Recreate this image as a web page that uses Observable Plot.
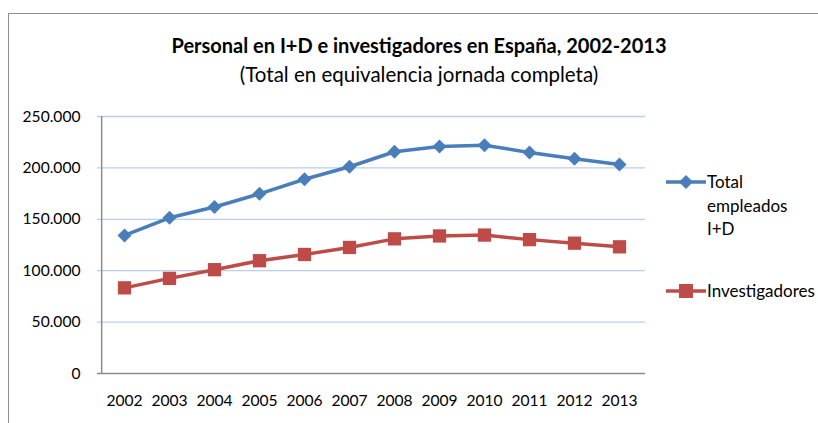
<!DOCTYPE html>
<html>
<head>
<meta charset="utf-8">
<script src="https://cdn.jsdelivr.net/npm/d3@7"></script>
<script src="https://cdn.jsdelivr.net/npm/@observablehq/plot@0.6"></script>
<style>
  html, body { margin: 0; padding: 0; background: #fff; overflow: hidden; }
  #wrap { position: relative; width: 818px; height: 423px; overflow: hidden; font-family: Lato, "Open Sans", sans-serif; color: #000; }
  #frame { position: absolute; left: 8px; top: 13px; width: 840px; height: 450px; border: 1px solid #8e8e8e; box-sizing: border-box; }
  #title { position: absolute; left: 0; top: 33px; width: 818px; text-align: center; font-size: 20px; font-weight: bold; padding-left: 20px; box-sizing: border-box; }
  #subtitle { position: absolute; left: 0; top: 62px; width: 818px; text-align: center; font-size: 20.5px; padding-left: 20px; box-sizing: border-box; }
  #chart { position: absolute; left: 0; top: 100px; }
  .leg { position: absolute; font-size: 17px; line-height: 23.5px; }
</style>
</head>
<body>
<div id="wrap">
  <div id="frame"></div>
  <div id="title">Personal en I+D e investigadores en España, 2002-2013</div>
  <div id="subtitle">(Total en equivalencia jornada completa)</div>
  <div id="chart"></div>
  <div class="leg" style="left:666px; top:170px;">
    <svg width="42" height="16" style="position:absolute; left:0; top:4px;"><line x1="0" y1="8" x2="40" y2="8" stroke="#4a7ebb" stroke-width="3.5"/><path d="M20,1 L27,8 L20,15 L13,8 Z" fill="#4a7ebb"/></svg>
    <div style="position:absolute; left:41px; top:0; width:110px;">Total<br>empleados<br>I+D</div>
  </div>
  <div class="leg" style="left:666px; top:279px;">
    <svg width="42" height="16" style="position:absolute; left:0; top:4px;"><line x1="0" y1="8" x2="40" y2="8" stroke="#be4b48" stroke-width="3.5"/><rect x="13" y="1" width="14" height="14" fill="#be4b48"/></svg>
    <div style="position:absolute; left:41px; top:0; width:140px;">Investigadores</div>
  </div>
</div>
<script>
const years = ["2002","2003","2004","2005","2006","2007","2008","2009","2010","2011","2012","2013"];
const totalEmpleados = [134258, 151487, 161933, 174773, 188978, 201108, 215676, 220777, 222022, 215079, 208831, 203302];
const investigadores = [83318, 92523, 100994, 109720, 115798, 122624, 130986, 133803, 134653, 130235, 126778, 123225];
const yTicks = [0, 50000, 100000, 150000, 200000, 250000];

const locale = d3.formatLocale({decimal: ",", thousands: ".", grouping: [3], currency: ["", " €"]});
const fmt = locale.format(",d");

const rowsTotal = years.map((y, i) => ({year: y, value: totalEmpleados[i]}));
const rowsInv = years.map((y, i) => ({year: y, value: investigadores[i]}));

const W = 818, ML = 97, MR = 173;
const halfStep = (W - ML - MR) / years.length / 2;

const chart = Plot.plot({
  width: W,
  height: 323,
  marginTop: 16,
  marginBottom: 50,
  marginLeft: ML,
  marginRight: MR,
  style: {fontFamily: "Lato, 'Open Sans', sans-serif", fontSize: "15.6px", color: "#000", background: "transparent"},
  x: {type: "point", domain: years, padding: 0.5, label: null, tickSize: 0, tickPadding: 21},
  y: {domain: [0, 250000], ticks: yTicks, tickFormat: fmt, label: null, tickSize: 0, tickPadding: 17},
  marks: [
    Plot.ruleY(yTicks.filter(d => d > 0), {stroke: "#bccde6", strokeWidth: 1.3}),
    Plot.ruleY([0], {stroke: "#8c8c8c", strokeWidth: 1.5}),
    Plot.ruleX([years[0]], {dx: -halfStep, stroke: "#8c8c8c", strokeWidth: 1.5}),
    Plot.line(rowsTotal, {x: "year", y: "value", stroke: "#4a7ebb", strokeWidth: 3.5}),
    Plot.dot(rowsTotal, {x: "year", y: "value", symbol: "diamond2", r: 6.3, fill: "#4a7ebb", stroke: "none"}),
    Plot.line(rowsInv, {x: "year", y: "value", stroke: "#be4b48", strokeWidth: 3.5}),
    Plot.dot(rowsInv, {x: "year", y: "value", symbol: "square", r: 7.5, fill: "#be4b48", stroke: "none"})
  ]
});
document.getElementById("chart").appendChild(chart);
</script>
</body>
</html>
